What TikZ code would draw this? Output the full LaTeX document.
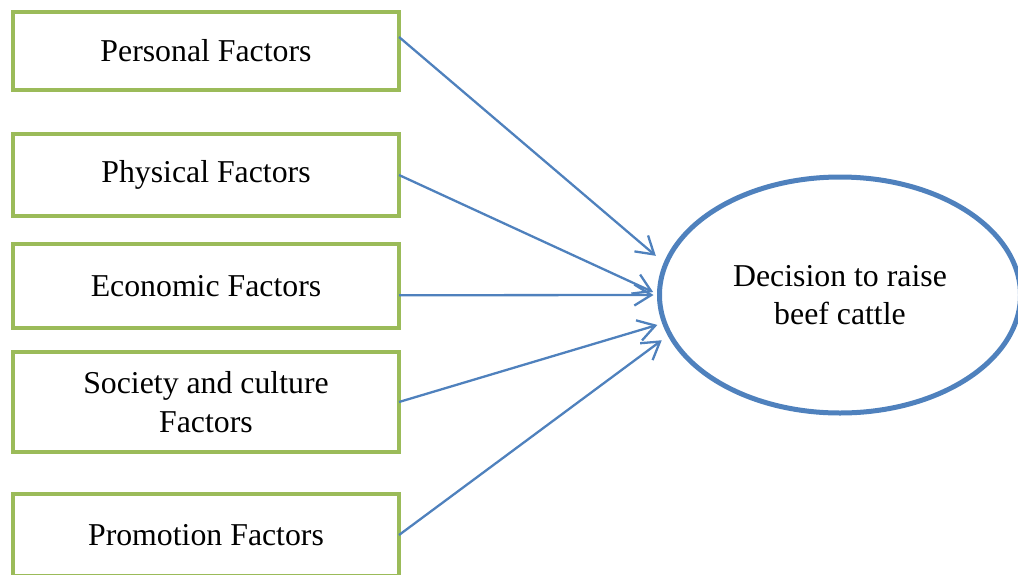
\documentclass[tikz,border=0pt]{standalone}
\usepackage{fontspec}
\setmainfont{Liberation Serif}
\usepackage{xcolor}
\usetikzlibrary{arrows.meta}
\usetikzlibrary{shapes.geometric}
\usetikzlibrary{calc}
\definecolor{boxgreen}{HTML}{9BBB59}
\definecolor{linkblue}{HTML}{4F81BD}
\tikzset{factor/.style={draw=boxgreen, line width=4.5pt, minimum width=386pt,
   inner sep=0pt, outer sep=0pt, align=center,
   font=\fontsize{31.8}{38.5}\selectfont},
 goal/.style={ellipse, draw=linkblue, line width=5pt, minimum width=361pt,
   minimum height=236pt, inner sep=0pt, outer sep=0pt, align=center,
   font=\fontsize{31.8}{38.5}\selectfont},
 link/.style={draw=linkblue, line width=2.3pt,
   -{Straight Barb[length=17pt,width=21pt]}},
 }

\begin{document}
\begin{tikzpicture}[x=1pt,y=-1pt]
    \useasboundingbox (0,0) rectangle (1018,574);
    % the five factors
    \node[factor, minimum height=78pt] (pers) at (206,51) {Personal Factors};
    \node[factor, minimum height=82pt] (phys) at (206,175) {Physical Factors};
    \node[factor, minimum height=84pt] (econ) at (206,286) {Economic Factors};
    \node[factor, minimum height=100pt] (soc) at (206,402) {Society and culture\\Factors};
    \node[factor, minimum height=82pt] (promo) at (206,535) {Promotion Factors};
    % the decision
    \node[goal] (dec) at (840,295) {Decision to raise\\beef cattle};
    % links
    \draw[link, shorten >=13pt] ($(pers.north east)!0.32!(pers.south east)$) -- (dec.170.6);
    \draw[link, shorten >=7pt] (phys.east) -- (dec.180);
    \draw[link, shorten >=6pt] ($(econ.north east)!0.61!(econ.south east)$) -- (dec.180);
    \draw[link, shorten >=7.5pt] (soc.east) -- (dec.189.4);
    \draw[link, shorten >=10pt] (promo.east) -- (dec.193.7);
\end{tikzpicture}
\end{document}
